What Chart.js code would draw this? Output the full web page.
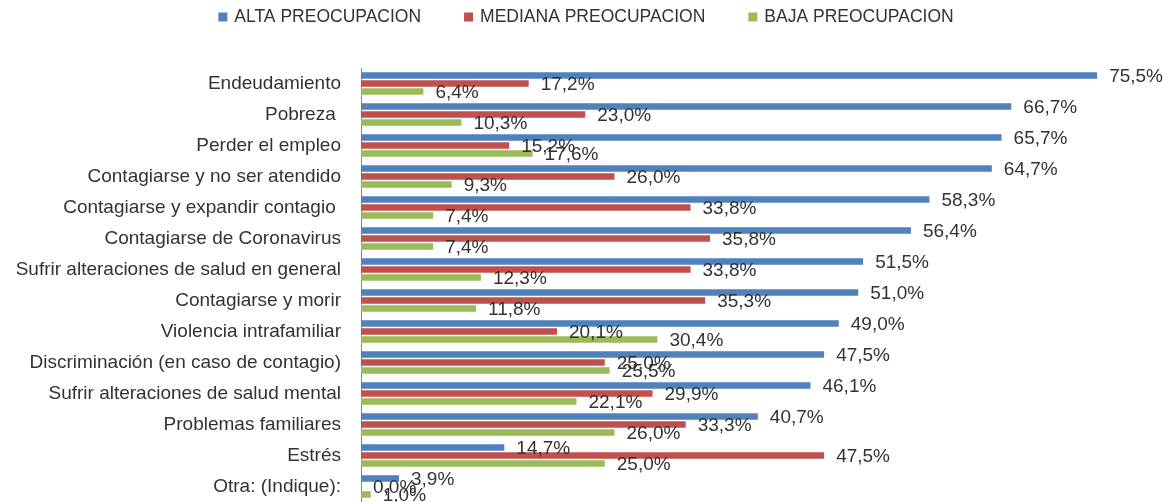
<!DOCTYPE html>
<html>
<head>
<meta charset="utf-8">
<script src="https://cdn.jsdelivr.net/npm/chart.js@4.4.1/dist/chart.umd.min.js"></script>
<style>
  html, body { margin: 0; padding: 0; background: #ffffff; overflow: hidden; }
  #wrap { width: 1166px; height: 502px; position: relative; }
</style>
</head>
<body>
<div id="wrap"><canvas id="c" width="1166" height="502"></canvas></div>
<script>
const categories = [
  "Endeudamiento",
  "Pobreza ",
  "Perder el empleo",
  "Contagiarse y no ser atendido",
  "Contagiarse y expandir contagio ",
  "Contagiarse de Coronavirus",
  "Sufrir alteraciones de salud en general",
  "Contagiarse y morir",
  "Violencia intrafamiliar",
  "Discriminación (en caso de contagio)",
  "Sufrir alteraciones de salud mental",
  "Problemas familiares",
  "Estrés",
  "Otra: (Indique):"
];
const seriesNames = ["ALTA PREOCUPACION", "MEDIANA PREOCUPACION", "BAJA PREOCUPACION"];
const alta    = [75.5, 66.7, 65.7, 64.7, 58.3, 56.4, 51.5, 51.0, 49.0, 47.5, 46.1, 40.7, 14.7, 3.9];
const mediana = [17.2, 23.0, 15.2, 26.0, 33.8, 35.8, 33.8, 35.3, 20.1, 25.0, 29.9, 33.3, 47.5, 0.0];
const baja    = [6.4, 10.3, 17.6, 9.3, 7.4, 7.4, 12.3, 11.8, 30.4, 25.5, 22.1, 26.0, 25.0, 1.0];
const colors = ["#4F81BD", "#C0504D", "#9BBB59"];

const FONT = "'Liberation Sans', Arial, sans-serif";
const TEXT = "#333333";

const labelPlugin = {
  id: 'valueLabels',
  afterDatasetsDraw(chart) {
    const ctx = chart.ctx;
    ctx.save();
    ctx.font = "19px " + FONT;
    ctx.fillStyle = TEXT;
    ctx.textAlign = 'left';
    ctx.textBaseline = 'middle';
    chart.data.datasets.forEach((ds, di) => {
      const meta = chart.getDatasetMeta(di);
      meta.data.forEach((el, i) => {
        const v = ds.data[i];
        const txt = v.toFixed(1).replace('.', ',') + '%';
        ctx.fillText(txt, el.x + 12, el.y + 1.5);
      });
    });
    ctx.restore();
  }
};

const legendPlugin = {
  id: 'topLegend',
  afterDraw(chart) {
    const ctx = chart.ctx;
    ctx.save();
    ctx.font = "17.5px " + FONT;
    ctx.textBaseline = 'middle';
    ctx.textAlign = 'left';
    const box = 9, gapText = 7, gapItem = 43;
    const items = chart.data.datasets.map(ds => ({ text: ds.label, color: ds.backgroundColor, w: ctx.measureText(ds.label).width }));
    let total = 0;
    items.forEach((it, i) => { total += box + gapText + it.w + (i > 0 ? gapItem : 0); });
    let x = 586 - total / 2;
    const y = 17;
    items.forEach(it => {
      ctx.fillStyle = it.color;
      ctx.fillRect(x, y - box / 2, box, box);
      x += box + gapText;
      ctx.fillStyle = TEXT;
      ctx.fillText(it.text, x, y);
      x += it.w + gapItem;
    });
    ctx.restore();
  }
};

new Chart(document.getElementById('c'), {
  type: 'bar',
  data: {
    labels: categories,
    datasets: [
      { label: seriesNames[0], data: alta, backgroundColor: colors[0] },
      { label: seriesNames[1], data: mediana, backgroundColor: colors[1] },
      { label: seriesNames[2], data: baja, backgroundColor: colors[2] }
    ]
  },
  options: {
    indexAxis: 'y',
    responsive: false,
    animation: false,
    devicePixelRatio: 1,
    layout: { padding: { top: 68, right: 25, bottom: 0, left: 0 } },
    datasets: { bar: { categoryPercentage: 0.774, barPercentage: 0.82 } },
    plugins: { legend: { display: false }, tooltip: { enabled: false } },
    scales: {
      x: { display: false, min: 0, max: 80 },
      y: {
        afterFit(s) { s.width = 361; s.paddingTop = 0; s.paddingBottom = 0; },
        grid: { display: false, drawTicks: false },
        border: { display: true, color: '#868686', width: 1 },
        ticks: { padding: 20, color: TEXT, font: { family: FONT, size: 19 }, autoSkip: false }
      }
    }
  },
  plugins: [labelPlugin, legendPlugin]
});
</script>
</body>
</html>
